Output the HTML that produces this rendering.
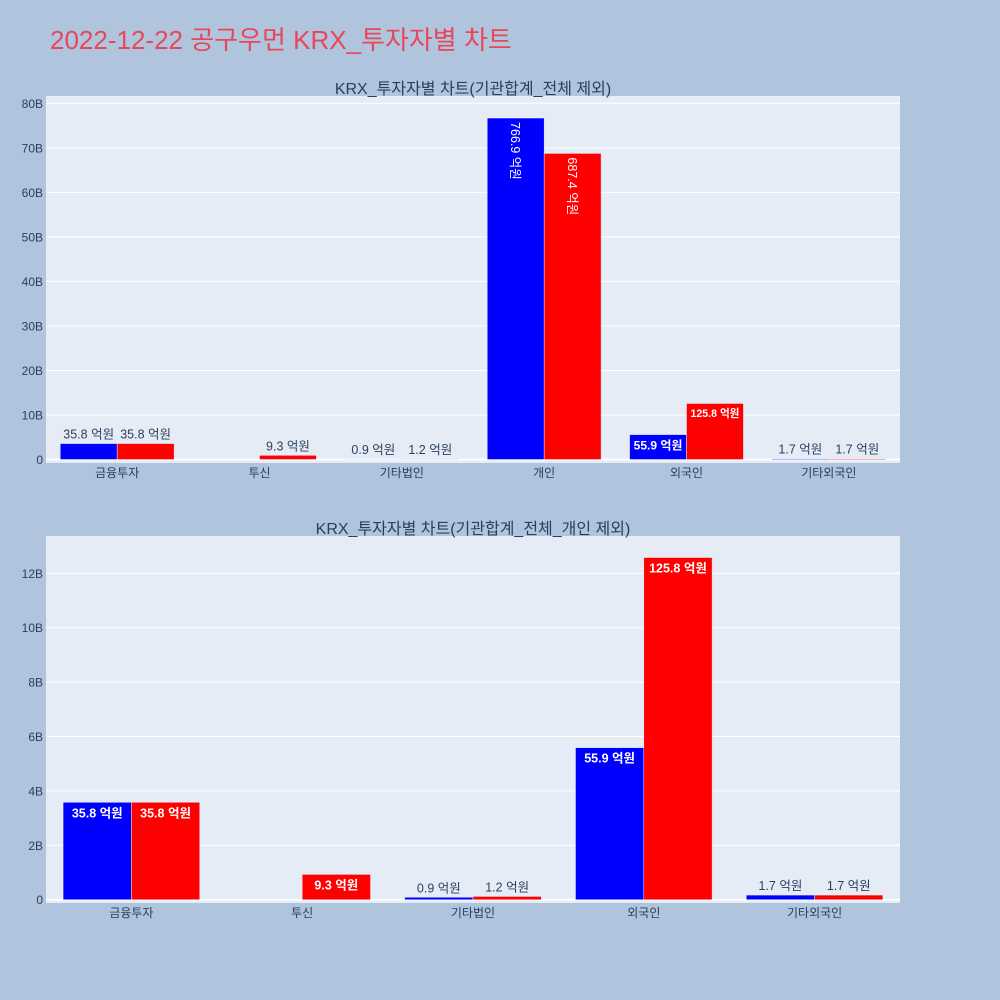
<!DOCTYPE html>
<html><head><meta charset="utf-8"><style>
body{margin:0;background:#b0c4de;width:1000px;height:1000px;overflow:hidden}
svg{display:block;font-family:"Liberation Sans","Noto Sans CJK KR",sans-serif}
</style></head><body>
<svg id="s" width="1000" height="1000" xmlns="http://www.w3.org/2000/svg">
<rect width="1000" height="1000" fill="#b0c4de"/>
<text x="50" y="49" font-size="26" fill="#e8475a">2022-12-22 공구우먼 KRX_투자자별 차트</text>
</svg>
<script>
const cats1 = ["금융투자","투신","기타법인","개인","외국인","기타외국인"];
const blue1 = [3.58, 0, 0.09, 76.69, 5.59, 0.17];
const red1 = [3.58, 0.93, 0.12, 68.74, 12.58, 0.17];
const ticks1 = [0,10,20,30,40,50,60,70,80];
const cats2 = ["금융투자","투신","기타법인","외국인","기타외국인"];
const blue2 = [3.58, 0, 0.09, 5.59, 0.17];
const red2 = [3.58, 0.93, 0.12, 12.58, 0.17];
const ticks2 = [0,2,4,6,8,10,12];

const NS="http://www.w3.org/2000/svg";
const svg=document.getElementById('s');
function mk(tag,attrs,parent){const e=document.createElementNS(NS,tag);for(const k in attrs)e.setAttribute(k,attrs[k]);(parent||svg).appendChild(e);return e;}
function tw(s,fs){let w=0;for(const c of s){if(/[0-9]/.test(c))w+=0.56;else if(c=='.')w+=0.28;else if(c==' ')w+=0.28;else w+=1.0;}return w*fs;}

function chart(p){
  const {title,cats,blue,red,ticks,x0,x1,y0,y1,zeroY,maxV,topY,name}=p;
  const g=mk('g',{});
  
  
  const bg=mk('rect',{x:x0,y:y0,width:x1-x0,height:y1-y0,fill:'#e5ecf6'},g);
  
  
  const yS=v=>zeroY-(v/maxV)*(zeroY-topY);
  ticks.forEach(t=>{
    const y=yS(t);
    mk('line',{x1:x0,x2:x1,y1:y,y2:y,stroke:'#fff','stroke-width':t==0?2:1},g);
    const tx=mk('text',{x:x0-3,y:y+4.5,'font-size':12,fill:'#2a3f5f','text-anchor':'end'},g);
    tx.textContent=t==0?'0':t+'B';
    
    
  });
  const band=(x1-x0)/cats.length, bw=band*0.4;
  cats.forEach((c,i)=>{
    const cx=x0+band*(i+0.5);
    const lt=mk('text',{x:cx,y:y1+14,'font-size':12,fill:'#2a3f5f','text-anchor':'middle'},g);
    lt.textContent=c;
    
    
    [[blue[i],'#0000ff',cx-bw],[red[i],'#ff0000',cx]].forEach(([v,col,bx])=>{
      const yt=yS(v),h=zeroY-yt;
      const r=mk('rect',{x:bx,y:yt,width:bw,height:Math.max(h,0),fill:col,stroke:'#e5ecf6','stroke-width':0.5},g);
      
      
      if(v<=0)return;
      const s=(v*10).toFixed(1)+' 억원';
      let fs=12.5, w=tw(s,fs);
      const t=mk('text',{'font-size':fs,'text-anchor':'middle'},g);
      t.textContent=s;
      
      
      const mid=bx+bw/2;
      if(h<18){
        t.setAttribute('x',mid);t.setAttribute('y',yt-5);t.setAttribute('fill','#2a3f5f');
      }else if(w<=bw-6){
        t.setAttribute('x',mid);t.setAttribute('y',yt+15);t.setAttribute('fill','#fff');t.setAttribute('font-weight','bold');
      }else if(h>w+10){
        t.setAttribute('fill','#fff');t.setAttribute('text-anchor','start');
        t.setAttribute('transform','translate('+(mid-4.5)+','+(yt+4)+') rotate(90)');
      }else{
        fs=fs*(bw-6)/w;
        t.setAttribute('font-size',fs.toFixed(1));
        t.setAttribute('x',mid);t.setAttribute('y',yt+fs+3);t.setAttribute('fill','#fff');t.setAttribute('font-weight','bold');
      }
    });
  });
  const tt=mk('text',{x:(x0+x1)/2,y:y0-2,'font-size':16,fill:'#2a3f5f','text-anchor':'middle'},g);
  tt.textContent=title;
  
  
}
chart({name:'chart-top',title:'KRX_투자자별 차트(기관합계_전체 제외)',cats:cats1,blue:blue1,red:red1,ticks:ticks1,
  x0:46,x1:900,y0:96,y1:463,zeroY:459.5,maxV:80,topY:103.3});
chart({name:'chart-bottom',title:'KRX_투자자별 차트(기관합계_전체_개인 제외)',cats:cats2,blue:blue2,red:red2,ticks:ticks2,
  x0:46,x1:900,y0:536,y1:903,zeroY:899.7,maxV:12,topY:573.3});
</script>
</body></html>
